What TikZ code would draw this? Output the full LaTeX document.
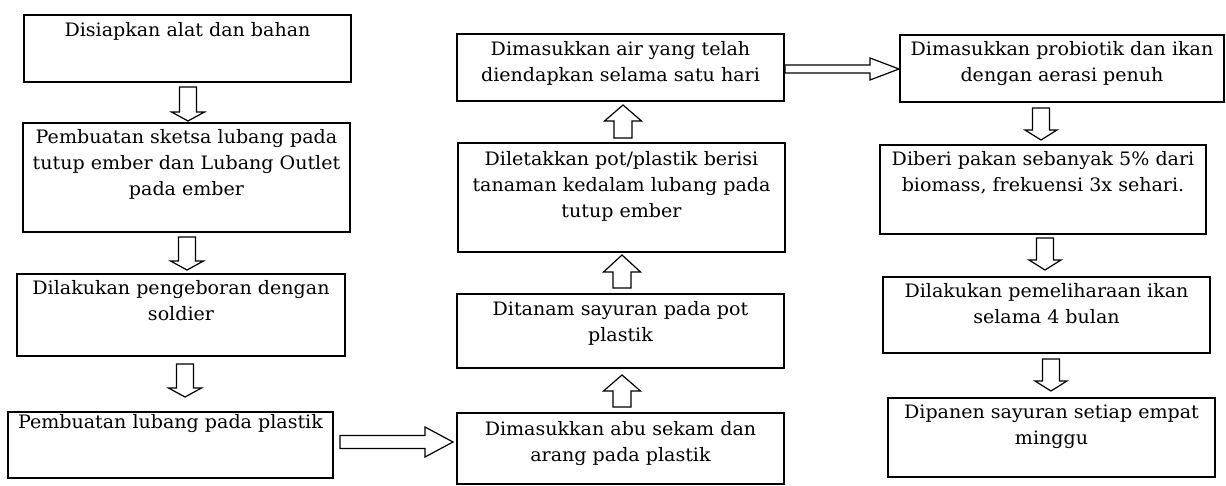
\documentclass[tikz,border=0pt]{standalone}
\usepackage{fontspec}
\setmainfont[FakeStretch=1.03]{DejaVu Serif}
\usetikzlibrary{calc}
\tikzset{
  box/.style={draw, line width=1.7pt, inner sep=0pt, rectangle},
  txt/.style={inner sep=0pt, align=center, anchor=north, font=\fontsize{18.5}{26}\selectfont},
  blockarr/.style={draw, line width=1.2pt, line join=miter},
}
% vertical block arrow: x, y tail, y head base, y tip, shaft half width, head half width
\newcommand\vblock[6]{\draw[blockarr] (#1-#5,#2) -- (#1+#5,#2) -- (#1+#5,#3) -- (#1+#6,#3) -- (#1,#4) -- (#1-#6,#3) -- (#1-#5,#3) -- cycle;}
% horizontal block arrow: y, x tail, x head base, x tip, shaft half width, head half width
\newcommand\hblock[6]{\draw[blockarr] (#2,#1-#5) -- (#2,#1+#5) -- (#3,#1+#5) -- (#3,#1+#6) -- (#4,#1) -- (#3,#1-#6) -- (#3,#1-#5) -- cycle;}
\begin{document}
\begin{tikzpicture}[x=1pt,y=-1pt]
\useasboundingbox (0,0) rectangle (1226,486);
% left column
\node[box, minimum width=327pt, minimum height=67pt] (b1) at (187.5,48.5) {};
\node[txt] (t1) at ([yshift=-8pt]b1.north) {Disiapkan alat dan bahan};
\node[box, minimum width=327pt, minimum height=109pt] (b2) at (186.5,177.5) {};
\node[txt] (t2) at ([yshift=-7pt]b2.north) {Pembuatan sketsa lubang pada\\tutup ember dan Lubang Outlet\\pada ember};
\node[box, minimum width=328pt, minimum height=82pt] (b3) at (181,315) {};
\node[txt] (t3) at ([yshift=-7pt]b3.north) {Dilakukan pengeboran dengan\\soldier};
\node[box, minimum width=325pt, minimum height=66pt] (b4) at (170.5,445) {};
\node[txt] (t4) at ([yshift=-3pt]b4.north) {Pembuatan lubang pada plastik};
% middle column
\node[box, minimum width=327pt, minimum height=67pt] (b5) at (620.5,67.5) {};
\node[txt] (t5) at ([yshift=-8pt]b5.north) {Dimasukkan air yang telah\\diendapkan selama satu hari};
\node[box, minimum width=327pt, minimum height=109pt] (b6) at (621.5,197.5) {};
\node[txt] (t6) at ([yshift=-9pt]b6.north) {Diletakkan pot/plastik berisi\\tanaman kedalam lubang pada\\tutup ember};
\node[box, minimum width=327pt, minimum height=74pt] (b7) at (620.5,331) {};
\node[txt] (t7) at ([yshift=-8pt]b7.north) {Ditanam sayuran pada pot\\plastik};
\node[box, minimum width=327pt, minimum height=71pt] (b8) at (620.5,448.5) {};
\node[txt] (t8) at ([yshift=-9pt]b8.north) {Dimasukkan abu sekam dan\\arang pada plastik};
% right column
\node[box, minimum width=324pt, minimum height=67pt] (b9) at (1062,68.5) {};
\node[txt] (t9) at ([yshift=-7pt]b9.north) {Dimasukkan probiotik dan ikan\\dengan aerasi penuh};
\node[box, minimum width=326pt, minimum height=89pt] (b10) at (1043,189.5) {};
\node[txt] (t10) at ([yshift=-7pt]b10.north) {Diberi pakan sebanyak 5\% dari\\biomass, frekuensi 3x sehari.};
\node[box, minimum width=327pt, minimum height=76pt] (b11) at (1046.5,315) {};
\node[txt] (t11) at ([yshift=-7pt]b11.north) {Dilakukan pemeliharaan ikan\\selama 4 bulan};
\node[box, minimum width=327pt, minimum height=79pt] (b12) at (1051.5,437.5) {};
\node[txt] (t12) at ([yshift=-8pt]b12.north) {Dipanen sayuran setiap empat\\minggu};
% block arrows: left column (down)
\vblock{188}{87}{112}{121}{8.5}{16.5}
\vblock{187}{237}{261}{270}{8.5}{16.5}
\vblock{185}{364}{388}{397}{8.5}{16.5}
% left -> middle
\hblock{442}{340}{425}{453}{6.5}{15}
% middle column (up)
\vblock{622}{407}{391}{375}{9}{18.5}
\vblock{622}{288}{272}{255}{9}{18.5}
\vblock{623}{138}{121}{105}{9}{18.5}
% middle -> right
\hblock{69}{785}{870}{899}{4}{11}
% right column (down)
\vblock{1041}{108}{130}{140}{8.5}{16}
\vblock{1045}{238}{260}{270}{8.5}{16}
\vblock{1051}{359}{381}{391}{8.5}{16}
\end{tikzpicture}
\end{document}
